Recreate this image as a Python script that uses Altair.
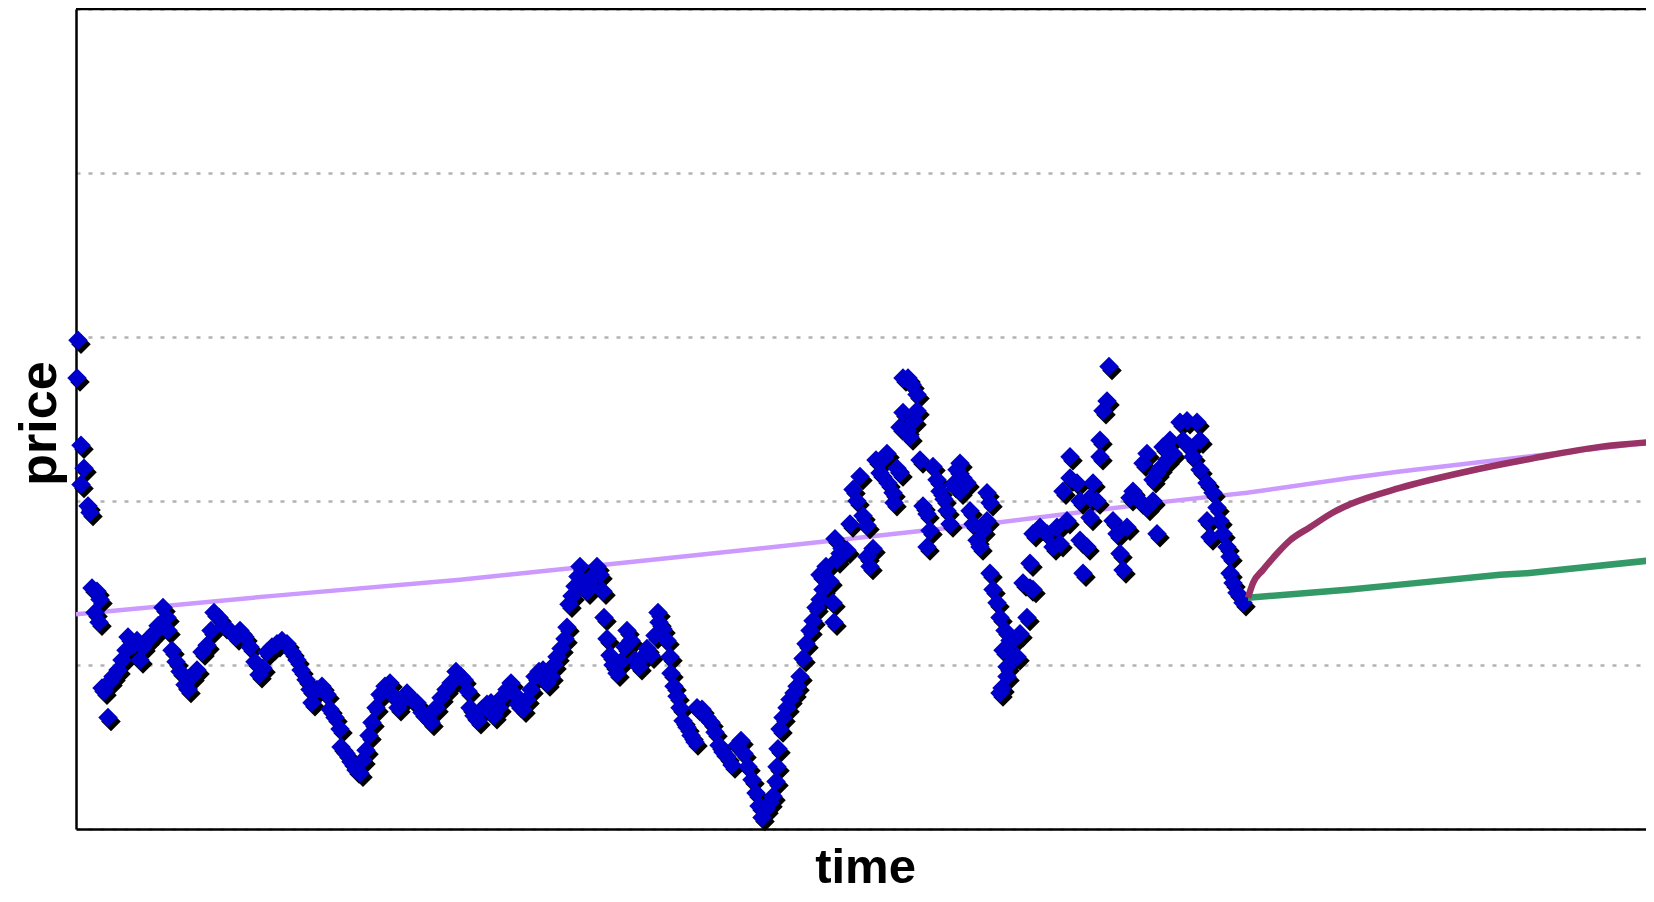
import altair as alt
import pandas as pd

# historical prices (time in trading-period units, price)
hist_t = [
    1, 0.5, 2.5, 4, 2.5, 6, 7, 8, 10.5, 12,
    9.5, 11.5, 13, 14, 16, 17, 18.5, 21, 23, 25,
    26, 28.5, 30.5, 32, 33.5, 35.5, 37, 39.5, 41, 43.5,
    45.5, 46, 48, 50, 52, 54.5, 56, 58, 60.5, 63,
    65.5, 67.5, 69, 71.5, 74, 77, 80, 82, 84.5, 87,
    89.5, 91.5, 93.5, 95.5, 98, 100.5, 103, 105.5, 108, 110.5,
    112.5, 115, 117, 118, 120.5, 123, 125.5, 127, 129.5, 132,
    132.5, 135, 137.5, 140, 142, 143.5, 145, 146.5, 148, 150,
    152, 154.5, 157, 159, 161, 163.5, 165.5, 168, 170.5, 173,
    175.5, 177.5, 180, 182.5, 185, 187.5, 190, 192.5, 194, 196,
    197, 199, 201, 203, 205.5, 207.5, 209, 211.5, 213.5, 215.5,
    217.5, 219.5, 221, 223.5, 225.5, 227.5, 229.5, 231.5, 233.5, 235.5,
    237.5, 239, 240.5, 242.5, 244.5, 245.5, 246.5, 248, 249.5, 251,
    252, 253.5, 255.5, 257.5, 259, 260.5, 262, 263.5, 264, 265.5,
    267, 268.5, 270.5, 272.5, 274.5, 275.5, 277.5, 279.5, 281.5, 283.5,
    285.5, 287.5, 289.5, 291.5, 291, 293.5, 295.5, 297, 297.5, 299,
    300.5, 302, 303.5, 305.5, 307.5, 309.5, 310.5, 313, 315.5, 317.5,
    319.5, 321.5, 323.5, 325.5, 328, 330.5, 332.5, 334, 336, 338,
    340, 341.5, 343, 345, 347, 348.5, 350, 350.5, 351, 352,
    353.5, 355.5, 357, 359, 360.5, 362, 363.5, 365, 367, 368.5,
    370, 372, 373.5, 372, 375, 377, 378.5, 379, 380.5, 382,
    379.5, 383, 385.5, 387, 388.5, 390.5, 392, 393.5, 395.5, 395.5,
    397, 398.5, 400, 402, 404, 405.5, 406, 408.5, 409, 410.5,
    412, 412, 413.5, 415.5, 417, 413.5, 416, 418, 420.5, 420.5,
    419, 422, 423.5, 425.5, 427, 425.5, 428.5, 430.5, 432, 434,
    435.5, 437, 438.5, 440.5, 442, 443.5, 442, 445.5, 447, 448.5,
    450.5, 452, 453.5, 455.5, 457, 455.5, 457, 458.5, 460.5, 462,
    464.5, 463.5, 465.5, 463, 468.5, 470.5, 462, 465.5, 468.5, 467,
    472, 475.5, 477, 473.5, 478.5, 477, 478.5, 482, 485.5, 488.5,
    492, 490.5, 495.5, 493.5, 497, 497, 500.5, 502, 502, 505.5,
    503.5, 507, 508.5, 510.5, 507, 512, 512, 513.5, 515.5, 516.5,
    518.5, 520.5, 522, 523.5, 525.5, 527, 528.5, 532, 535.5, 538.5,
    540.5, 540.5, 533.5, 535.5, 538.5, 542, 543.5, 545.5, 547, 548.5,
    552, 553.5, 555.5, 557, 558.5, 560.5, 562, 562, 565.5, 568.5,
    565.5, 567, 570.5, 572, 573.5, 575.5, 577, 577, 578.5, 580.5, 583.5,
]
hist_p = [
    69.8, 67.5, 63.4, 62.0, 61.0, 59.7, 59.3, 54.7, 54.5, 54.0,
    53.2, 52.6, 48.6, 48.4, 46.8, 49.0, 49.3, 49.7, 50.3, 50.9,
    51.7, 51.2, 51.5, 50.3, 51.1, 51.5, 51.7, 52.0, 52.4, 53.5,
    52.9, 52.1, 50.9, 50.2, 49.6, 48.8, 48.5, 49.3, 49.7, 50.8,
    51.2, 52.1, 53.2, 52.9, 52.4, 52.1, 51.7, 52.1, 51.7, 51.1,
    50.2, 49.4, 49.8, 50.8, 51.1, 51.3, 51.5, 51.3, 50.8, 50.3,
    49.7, 49.1, 48.5, 47.7, 48.5, 48.7, 48.2, 47.3, 46.8, 46.1,
    45.0, 44.6, 44.1, 43.6, 43.4, 44.2, 44.8, 45.7, 46.5, 47.4,
    48.2, 48.7, 48.9, 48.1, 47.4, 47.9, 48.3, 47.9, 47.7, 47.1,
    46.8, 46.5, 47.4, 48.0, 48.5, 48.9, 49.6, 49.3, 49.1, 48.4,
    47.4, 46.9, 46.6, 47.3, 47.6, 47.7, 46.9, 47.4, 48.1, 48.5,
    48.9, 48.2, 47.6, 47.3, 47.9, 48.5, 49.3, 49.6, 49.7, 48.9,
    49.3, 50.0, 50.5, 51.0, 51.6, 52.3, 53.7, 54.2, 54.8, 55.4,
    56.0, 55.1, 54.5, 54.8, 55.5, 56.0, 55.5, 54.5, 52.9, 51.6,
    50.6, 50.0, 49.5, 50.2, 51.1, 52.1, 51.5, 50.3, 49.9, 50.5,
    51.0, 50.6, 51.8, 52.6, 53.2, 52.2, 51.5, 50.5, 49.5, 48.7,
    48.1, 47.4, 46.6, 46.2, 45.7, 45.3, 47.4, 47.3, 46.8, 46.5,
    45.9, 45.1, 44.7, 44.4, 43.9, 45.1, 45.4, 44.6, 43.8, 43.0,
    42.2, 41.4, 40.7, 41.2, 41.6, 42.0, 42.9, 43.8, 44.9, 46.1,
    46.8, 47.4, 47.9, 48.3, 48.7, 49.3, 50.4, 51.3, 52.1, 52.7,
    53.5, 54.0, 54.6, 55.5, 56.0, 55.1, 53.8, 52.6, 56.4, 56.8,
    57.7, 57.1, 57.0, 58.6, 60.7, 60.0, 61.5, 59.1, 58.5, 56.6,
    56.0, 57.1, 62.5, 61.7, 62.6, 62.9, 61.1, 60.5, 59.9, 62.0,
    61.7, 64.5, 65.4, 64.3, 63.9, 67.5, 67.5, 67.1, 66.5, 65.5,
    64.9, 62.5, 59.7, 59.2, 58.2, 57.2, 62.1, 61.3, 60.6, 60.1,
    59.4, 58.6, 61.0, 61.9, 62.3, 61.4, 60.6, 61.1, 59.4, 58.6,
    57.6, 57.2, 58.2, 60.5, 59.9, 58.8, 55.6, 54.6, 53.8, 52.9,
    52.1, 50.9, 49.9, 48.6, 51.5, 50.5, 48.3, 49.3, 50.5, 51.5,
    51.9, 52.9, 54.7, 55.0, 54.6, 56.2, 58.0, 58.4, 58.0, 57.2,
    57.4, 58.4, 58.8, 60.6, 61.4, 62.7, 61.1, 60.0, 57.6, 57.2,
    55.6, 60.2, 61.1, 60.0, 59.0, 62.7, 63.7, 65.5, 66.1, 68.2,
    58.8, 58.0, 56.8, 55.8, 58.4, 60.2, 60.6, 60.0, 59.6, 60.0,
    58.0, 61.7, 62.3, 62.9, 61.3, 62.0, 63.3, 62.5, 63.7, 62.9,
    64.8, 63.7, 64.9, 63.3, 62.7, 64.8, 63.7, 61.9, 61.1, 60.5,
    58.8, 57.8, 59.6, 58.8, 58.0, 57.2, 56.6, 55.6, 55.0, 54.4, 53.8,
]
assert len(hist_t) == len(hist_p), (len(hist_t), len(hist_p))

# long-run trend line
trend_t = [0, 97, 192, 287, 372, 462, 540.5, 585.5, 637, 662, 789]
trend_p = [53.1, 54.2, 55.2, 56.4, 57.5, 58.7, 59.9, 60.5, 61.4, 61.8, 63.6]

# expected-value forecast (reverting towards trend)
mean_t = [586, 588.5, 593.5, 600.5, 607, 617, 628.5, 637, 662, 695.5, 728.5, 762, 789]
mean_p = [54.1, 55.0, 55.8, 56.8, 57.6, 58.4, 59.3, 59.8, 60.8, 61.8, 62.6, 63.3, 63.6]

# forecast from current level
fc_t = [586, 637, 662, 712, 725.5, 789]
fc_p = [54.1, 54.6, 54.9, 55.5, 55.6, 56.4]

hist = pd.DataFrame({"time": hist_t, "price": hist_p})
trend = pd.DataFrame({"time": trend_t, "price": trend_p})
mean = pd.DataFrame({"time": mean_t, "price": mean_p})
fc = pd.DataFrame({"time": fc_t, "price": fc_p})

W, H = 1570, 820
XS = alt.Scale(domain=[0, 785], nice=False, zero=False)
YS = alt.Scale(domain=[40, 90], nice=False, zero=False)
FONT = "Liberation Sans"

xaxis = alt.Axis(
    title="time", ticks=False, labels=False, grid=False,
    domainColor="black", domainWidth=2.5,
    titleFont=FONT, titleFontSize=49, titleFontWeight="bold", titleColor="black",
    titleBaseline="alphabetic", titleY=53, titleX=789,
)
yaxis = alt.Axis(
    title="price", ticks=False, labels=False, grid=True,
    values=[40, 50, 60, 70, 80, 90],
    gridColor="#b3b3b3", gridDash=[4, 8], gridWidth=2.5,
    domainColor="black", domainWidth=2.5,
    titleFont=FONT, titleFontSize=52, titleFontWeight="bold", titleColor="black",
    titleAngle=270, titleBaseline="alphabetic", titleAlign="center",
    titleX=-20.5, titleY=414,
)

X = alt.X("time:Q", scale=XS, axis=xaxis)
Y = alt.Y("price:Q", scale=YS, axis=yaxis)

top_rule = alt.Chart(pd.DataFrame({"k": [0]})).mark_rule(
    color="black", strokeWidth=2.5
).encode(x=alt.value(0), x2=alt.value(W), y=alt.value(0))

trend_line = alt.Chart(trend).mark_line(color="#cc99ff", strokeWidth=4.5, clip=True).encode(x=X, y=Y)
mean_line = alt.Chart(mean).mark_line(
    color="#993366", strokeWidth=6.5, interpolate="monotone", clip=True
).encode(x=X, y=Y)
fc_line = alt.Chart(fc).mark_line(color="#339966", strokeWidth=6.5, clip=True).encode(x=X, y=Y)
shadow = alt.Chart(hist).mark_point(
    shape="diamond", filled=True, size=380, color="black", opacity=1,
    strokeWidth=0, xOffset=3, yOffset=4,
).encode(x=X, y=Y)
pts = alt.Chart(hist).mark_point(
    shape="diamond", filled=True, size=380, color="#0000cc", opacity=1, strokeWidth=0,
).encode(x=X, y=Y)

chart = alt.layer(trend_line, shadow, pts, fc_line, mean_line, top_rule).properties(
    width=W, height=H,
    autosize=alt.AutoSizeParams(type="none"),
    padding={"left": 68, "top": 1, "right": 0, "bottom": 64},
    background="white",
).configure_view(strokeWidth=0)

chart.save("out.html", embed_options={"renderer": "svg", "actions": False})
